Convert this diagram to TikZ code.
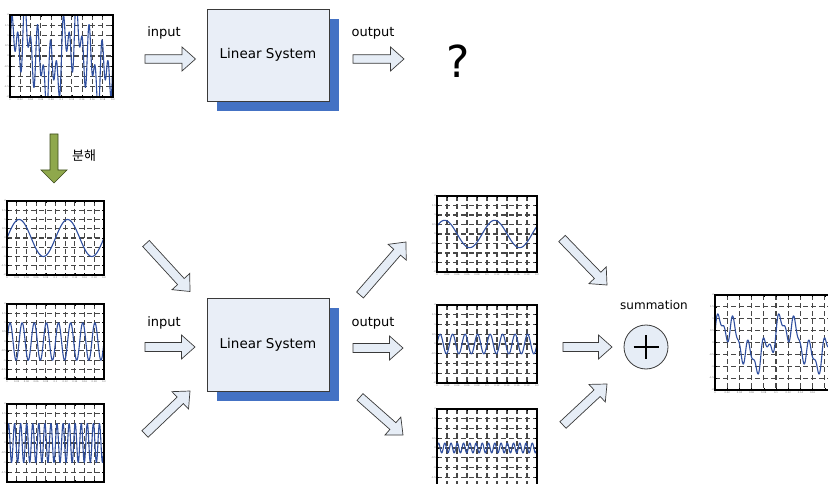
\documentclass[tikz,border=0pt]{standalone}
\usepackage{fontspec}
\setmainfont{DejaVu Sans}
\newfontfamily\krfont{Noto Sans CJK KR}
\usetikzlibrary{calc}
\definecolor{boxfill}{HTML}{E9EEF7}
\definecolor{shadowblue}{HTML}{4472C4}
\definecolor{arrowfill}{HTML}{E6EDF6}
\definecolor{edgegray}{HTML}{3A3A3A}
\definecolor{sigblue}{HTML}{2F4F9F}
\definecolor{decgreen}{HTML}{8FA84C}
\definecolor{decedge}{HTML}{3C4A1C}
\tikzset{
  sysbox/.style={draw=edgegray, fill=boxfill, line width=0.8pt, minimum width=122pt, minimum height=92pt, inner sep=0pt, outer sep=0pt, font=\fontsize{13.5}{15}\selectfont},
  sysshadow/.style={fill=shadowblue},
  barrowstyle/.style={draw=edgegray, fill=arrowfill, line width=0.7pt, line join=miter},
  decarrowstyle/.style={draw=decedge, fill=decgreen, line width=0.7pt, line join=miter},
  lbl/.style={font=\fontsize{13}{15}\selectfont, inner sep=0pt},
  gridline/.style={black!72, line width=1.05pt, dash pattern=on 5pt off 3pt},
  plotframe/.style={draw=black, line width=1.3pt, inner sep=0pt, outer sep=0pt},
  curve/.style={sigblue, line width=1.1pt, line join=round},
  ticklbl/.style={font=\fontsize{2.3}{2.3}\selectfont, text=black!60, inner sep=0.3pt},
  tickmark/.style={line width=0.6pt},
}
% #1 style, #2 from, #3 to, #4 shaft half width, #5 head half width, #6 head length
\newcommand\blockarr[6]{%
  \coordinate (bah) at ($(#3)!#6!(#2)$);
  \draw[#1] ($(#2)!#4!90:(#3)$) -- ($(bah)!#4!90:(#3)$) -- ($(bah)!#5!90:(#3)$) -- (#3)
    -- ($(bah)!#5!-90:(#3)$) -- ($(bah)!#4!-90:(#3)$) -- ($(#2)!#4!-90:(#3)$) -- cycle;}
% #1 name, #2 x0, #3 y0, #4 w, #5 h, #6 samples, #7 expression in \ms (milliseconds, 0..200)
\newcommand\sigplot[7]{%
  \begin{scope}[shift={(#2,#3)}]
    \foreach \i in {1,...,9} \draw[gridline] ({\i*#4/10},0) -- ({\i*#4/10},#5);
    \foreach \j in {1,...,7} \draw[gridline] (0,{\j*#5/8}) -- (#4,{\j*#5/8});
    \foreach \i in {1,...,9} {\draw[tickmark] ({\i*#4/10},0) -- ++(0,1.8) ({\i*#4/10},#5) -- ++(0,-1.8);}
    \foreach \j in {1,...,7} {\draw[tickmark] (0,{\j*#5/8}) -- ++(1.8,0) (#4,{\j*#5/8}) -- ++(-1.8,0);}
    \begin{scope}
      \clip (0,0) rectangle (#4,#5);
      \draw[curve] plot[domain=0:200, samples=#6, variable=\ms] ({\ms/200*#4},{#5/2-(#7)*#5/4});
    \end{scope}
    \node[plotframe, anchor=north west, minimum width=#4pt, minimum height=#5pt] (#1) at (0,0) {};
    \pgfmathtruncatemacro\labbottom{#3+#5+4}
    \ifnum\labbottom<483
      \foreach \lab [count=\k from 0] in {0,0.02,0.04,0.06,0.08,0.1,0.12,0.14,0.16,0.18,0.2}{
        \pgfmathtruncatemacro\labx{#2+\k*#4/10+4}
        \ifnum\labx<827
          \node[ticklbl, anchor=north] at ({\k*#4/10},#5+0.8) {\lab};
        \fi}
    \fi
    \foreach \lab [count=\k from 0] in {2,1.5,1,0.5,0,-0.5,-1,-1.5,-2}{
      \pgfmathtruncatemacro\laby{#3+\k*#5/8+2}
      \ifnum\laby<483
        \node[ticklbl, anchor=east] at (-0.6,{\k*#5/8}) {\lab};
      \fi}
  \end{scope}}
\begin{document}
\begin{tikzpicture}[x=1pt, y=-1pt]
\clip (0,0) rectangle (828,484);
\fill[white] (0,0) rectangle (828,484);

% ---------- plots ----------
\sigplot{in0}{10}{15}{103}{82}{600}{sin(3.6*\ms)+sin(14.4*\ms)+sin(28.8*\ms)}
\sigplot{in1}{7}{201}{97}{74}{200}{sin(3.6*\ms)}
\sigplot{in2}{7}{304}{97}{75}{300}{sin(14.4*\ms)}
\sigplot{in3}{7}{404}{97}{78}{500}{sin(28.8*\ms)}
\sigplot{out1}{437}{196}{100}{76}{200}{0.72*sin(3.6*\ms+35)}
\sigplot{out2}{437}{305}{100}{78}{300}{0.5*sin(14.4*\ms)}
\sigplot{out3}{437}{409}{100}{78}{500}{0.25*sin(28.8*\ms)}
\sigplot{sumplot}{715}{295}{122}{95}{500}{0.72*sin(3.6*\ms+35)+0.5*sin(14.4*\ms)+0.25*sin(28.8*\ms)}

% ---------- linear system boxes ----------
\fill[sysshadow] (217,19) rectangle (339,111);
\node[sysbox, anchor=north west] (sys1) at (207,9) {Linear System};
\fill[sysshadow] (217,308) rectangle (339,401);
\node[sysbox, anchor=north west, minimum height=93pt] (sys2) at (207,298) {Linear System};

% ---------- top row ----------
\coordinate (t1s) at (145,59);
\coordinate (t1e) at (195.5,59);
\blockarr{barrowstyle}{t1s}{t1e}{4.3pt}{12pt}{13.5pt}
\coordinate (t2s) at (353,59);
\coordinate (t2e) at (404,59);
\blockarr{barrowstyle}{t2s}{t2e}{4.3pt}{12pt}{13.5pt}
\node[lbl] (lin1) at (164,33) {input};
\node[lbl] (lout1) at (373,33) {output};
\node[inner sep=0pt, font=\fontsize{44}{48}\selectfont] (qm) at (458,61) {?};

% ---------- decomposition ----------
\coordinate (ds) at (54,134);
\coordinate (de) at (54,183);
\blockarr{decarrowstyle}{ds}{de}{4pt}{13pt}{13pt}
\node[inner sep=0pt, font=\krfont\fontsize{13}{15}\selectfont] (dec) at (84,156) {분해};

% ---------- middle row: inputs ----------
\coordinate (i1s) at (146,243.5);
\coordinate (i1e) at (190,291.5);
\blockarr{barrowstyle}{i1s}{i1e}{4.5pt}{12pt}{13.5pt}
\coordinate (i2s) at (145,347);
\coordinate (i2e) at (195,347);
\blockarr{barrowstyle}{i2s}{i2e}{4.5pt}{12pt}{13.5pt}
\coordinate (i3s) at (145,434);
\coordinate (i3e) at (190,391);
\blockarr{barrowstyle}{i3s}{i3e}{4.5pt}{12pt}{13.5pt}
\node[lbl] (lin2) at (164,323) {input};

% ---------- middle row: outputs ----------
\coordinate (o1s) at (360,295);
\coordinate (o1e) at (406,242);
\blockarr{barrowstyle}{o1s}{o1e}{4.5pt}{12pt}{13.5pt}
\coordinate (o2s) at (353,348);
\coordinate (o2e) at (403,348);
\blockarr{barrowstyle}{o2s}{o2e}{4.5pt}{12pt}{13.5pt}
\coordinate (o3s) at (360,397);
\coordinate (o3e) at (403,435);
\blockarr{barrowstyle}{o3s}{o3e}{4.5pt}{12pt}{13.5pt}
\node[lbl] (lout2) at (373,323) {output};

% ---------- summation ----------
\coordinate (s1s) at (562,238.5);
\coordinate (s1e) at (607,285);
\blockarr{barrowstyle}{s1s}{s1e}{4.5pt}{12pt}{13.5pt}
\coordinate (s2s) at (563,347);
\coordinate (s2e) at (612,347);
\blockarr{barrowstyle}{s2s}{s2e}{4.5pt}{12pt}{13.5pt}
\coordinate (s3s) at (563,425);
\coordinate (s3e) at (607,384);
\blockarr{barrowstyle}{s3s}{s3e}{4.5pt}{12pt}{13.5pt}
\node[circle, draw=edgegray, fill=arrowfill, line width=0.8pt, minimum size=44pt, inner sep=0pt] (sum) at (646,347) {};
\draw[line width=2.8pt] ($(sum.center)+(-12.5,0)$) -- ($(sum.center)+(12.5,0)$);
\draw[line width=2.8pt] ($(sum.center)+(0,-12)$) -- ($(sum.center)+(0,12)$);
\node[inner sep=0pt, font=\fontsize{12}{14}\selectfont] (lsum) at (654,305) {summation};
\end{tikzpicture}
\end{document}
